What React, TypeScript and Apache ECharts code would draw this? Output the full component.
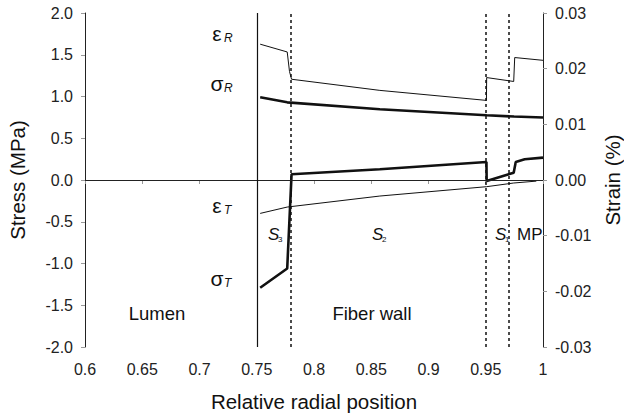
import React, { useEffect, useRef } from "react";
import * as echarts from "echarts";

// Layer boundaries (relative radial position): lumen/S3 (solid), S3/S2, S2/S1, S1/MP (dotted)
const boundaries = [0.753, 0.7766, 0.9508, 0.9747];

// Radial stress σR (MPa)
const sigmaRPos = [0.753, 0.7766, 0.8575, 0.9508, 0.9747, 1.0];
const sigmaR = [0.99, 0.93, 0.848, 0.776, 0.76, 0.748];

// Radial strain εR (%)
const epsRPos = [0.753, 0.7766, 0.7786, 0.7804, 0.8575, 0.9506, 0.9508, 0.9744, 0.9753, 1.0];
const epsR = [0.0244, 0.023, 0.0195, 0.0181, 0.0161, 0.0143, 0.0184, 0.0177, 0.022, 0.0215];

// Tangential stress σT (MPa)
const sigmaTPos = [0.753, 0.7766, 0.7804, 0.8575, 0.9506, 0.9508, 0.9744, 0.9762, 0.984, 1.0];
const sigmaT = [-1.29, -1.06, 0.068, 0.128, 0.216, -0.012, 0.088, 0.216, 0.248, 0.268];

// Tangential strain εT (%)
const epsTPos = [0.753, 0.7766, 0.8575, 0.9508, 0.9744, 0.9942];
const epsT = [-0.006, -0.00486, -0.00288, -0.0012, -0.00054, -0.0002];

const zip = (xs: number[], ys: number[]) => xs.map((x, i) => [x, ys[i]]);

const FONT = "'Liberation Sans', Arial, sans-serif";
const INK = "#111";

export default function App() {
  const ref = useRef<HTMLDivElement>(null);
  useEffect(() => {
    if (!ref.current) return;
    const chart = echarts.init(ref.current, undefined, { renderer: "svg" });

    const greek = (ch: string, sub: string, x: number, y: number) => [
      {
        type: "text",
        x,
        y,
        style: { text: ch, font: `21px ${FONT}`, fill: INK, align: "center", verticalAlign: "middle" },
      },
      {
        type: "text",
        x: x + 7,
        y: y + 5,
        style: { text: sub, font: `italic 12px ${FONT}`, fill: INK, align: "left", verticalAlign: "middle" },
      },
    ];
    const layer = (s: string, sub: string, x: number, y: number) => [
      {
        type: "text",
        x,
        y,
        style: { text: s, font: `italic 17px ${FONT}`, fill: INK, align: "left", verticalAlign: "middle" },
      },
      {
        type: "text",
        x: x + 10,
        y: y + 5,
        style: { text: sub, font: `8px ${FONT}`, fill: INK, align: "left", verticalAlign: "middle" },
      },
    ];
    const plain = (s: string, x: number, y: number, align = "center", size = 18.5) => ({
      type: "text",
      x,
      y,
      style: { text: s, font: `${size}px ${FONT}`, fill: INK, align, verticalAlign: "middle" },
    });

    chart.setOption({
      animation: false,
      grid: { left: 85, right: 81, top: 13, bottom: 73, outerBoundsMode: "none", containLabel: false },
      xAxis: {
        type: "value",
        min: 0.6,
        max: 1.0,
        interval: 0.05,
        name: "Relative radial position",
        nameLocation: "middle",
        nameGap: 44,
        nameTextStyle: { fontFamily: FONT, fontSize: 20.5, color: INK },
        axisLine: { lineStyle: { color: "#222", width: 1 } },
        axisTick: { length: 4, lineStyle: { color: "#999" } },
        axisLabel: { fontFamily: FONT, fontSize: 16, color: "#222", margin: 14 },
        splitLine: { show: false },
      },
      yAxis: [
        {
          type: "value",
          min: -2,
          max: 2,
          interval: 0.5,
          name: "Stress (MPa)",
          nameLocation: "middle",
          nameRotate: 90,
          nameGap: 57,
          nameTextStyle: { fontFamily: FONT, fontSize: 20.5, color: INK },
          axisLine: { show: true, lineStyle: { color: "#222", width: 1 } },
          axisTick: { show: true, length: 4, lineStyle: { color: "#999" } },
          axisLabel: {
            fontFamily: FONT,
            fontSize: 16,
            color: "#222",
            margin: 12,
            formatter: (v: number) => v.toFixed(1),
          },
          splitLine: { show: false },
        },
        {
          type: "value",
          min: -0.03,
          max: 0.03,
          interval: 0.01,
          position: "right",
          name: "Strain (%)",
          nameLocation: "middle",
          nameRotate: 90,
          nameGap: 58,
          nameTextStyle: { fontFamily: FONT, fontSize: 20.5, color: INK },
          axisLine: { show: true, lineStyle: { color: "#222", width: 1 } },
          axisTick: { show: true, length: 4, lineStyle: { color: "#999" } },
          axisLabel: {
            fontFamily: FONT,
            fontSize: 16,
            color: "#222",
            margin: 12,
            formatter: (v: number) => v.toFixed(2),
          },
          splitLine: { show: false },
        },
      ],
      series: [
        {
          name: "σR",
          type: "line",
          yAxisIndex: 0,
          data: zip(sigmaRPos, sigmaR),
          showSymbol: false,
          symbol: "none",
          lineStyle: { color: INK, width: 2.6 },
          markLine: {
            silent: true,
            symbol: "none",
            label: { show: false },
            data: [
              { yAxis: 0, lineStyle: { type: "solid", width: 1, color: "#222" } },
              ...boundaries.map((b, i) => ({
                xAxis: b,
                lineStyle:
                  i === 0
                    ? { type: "solid", width: 1.2, color: INK }
                    : { type: [3, 3], width: 1.5, color: INK },
              })),
            ],
          },
        },
        {
          name: "εR",
          type: "line",
          yAxisIndex: 1,
          data: zip(epsRPos, epsR),
          showSymbol: false,
          symbol: "none",
          lineStyle: { color: INK, width: 1 },
        },
        {
          name: "σT",
          type: "line",
          yAxisIndex: 0,
          data: zip(sigmaTPos, sigmaT),
          showSymbol: false,
          symbol: "none",
          lineStyle: { color: INK, width: 2.6 },
        },
        {
          name: "εT",
          type: "line",
          yAxisIndex: 1,
          data: zip(epsTPos, epsT),
          showSymbol: false,
          symbol: "none",
          lineStyle: { color: INK, width: 1 },
        },
      ],
      graphic: [
        ...greek("ε", "R", 217, 33),
        ...greek("σ", "R", 217, 83),
        ...greek("ε", "T", 217, 205),
        ...greek("σ", "T", 217, 278),
        ...layer("S", "3", 268, 234),
        ...layer("S", "2", 372, 234),
        ...layer("S", "1", 495, 234),
        plain("MP", 517, 234, "left", 17),
        plain("Lumen", 157, 313),
        plain("Fiber wall", 372, 313),
      ],
    });
    return () => chart.dispose();
  }, []);
  return (
    <div
      ref={ref}
      style={{ position: "fixed", left: 0, top: 0, width: 624, height: 420, background: "#fff" }}
    />
  );
}
